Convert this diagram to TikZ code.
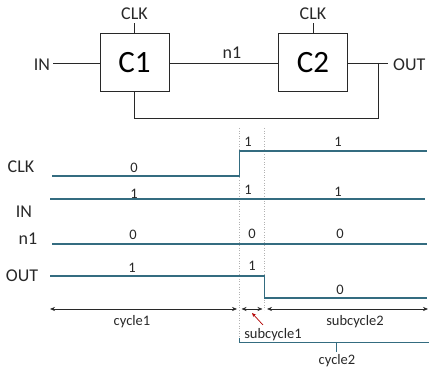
\documentclass[tikz,border=0pt]{standalone}
\usepackage{fontspec}
\setmainfont{Carlito}
\usetikzlibrary{arrows.meta}
\definecolor{sig}{RGB}{52,108,128}
\definecolor{ink}{RGB}{40,40,40}
\begin{document}
\begin{tikzpicture}[x=1pt,y=-1pt,
  blk/.style={draw=ink,line width=1pt,minimum width=69pt,minimum height=58pt,inner sep=0pt,font=\fontsize{31}{33}\selectfont},
  lbl/.style={inner sep=0pt,font=\fontsize{18}{20}\selectfont,text=ink},
  val/.style={inner sep=0pt,font=\fontsize{14.5}{16}\selectfont,text=ink},
  wire/.style={draw=ink,line width=0.8pt},
  wave/.style={draw=sig,line width=1.6pt},
  guide/.style={draw=gray!60,line width=0.6pt,dotted},
  span/.style={draw=ink,line width=0.6pt,{Stealth[length=5pt,width=4pt]}-{Stealth[length=5pt,width=4pt]}},
  brk/.style={draw=sig,line width=0.8pt}]
\useasboundingbox (0,0) rectangle (429,371);
% ---- top block diagram ----
\node[blk] (c1) at (134.5,63) {C1};
\node[blk] (c2) at (313,63) {C2};
\node[lbl] (clk1) at (134.5,14) {CLK};
\node[lbl] (clk2) at (313,14) {CLK};
\draw[wire] (clk1.south) ++(0,3) -- (c1.north);
\draw[wire] (clk2.south) ++(0,3) -- (c2.north);
\node[lbl] (in) at (42,65) {IN};
\coordinate (ina) at (53,63);
\draw[wire] (ina) -- (c1.west);
\node[lbl] (n1) at (232,53) {n1};
\draw[wire] (c1.east) -- (c2.west);
\node[lbl,anchor=west] (out) at (393,65) {OUT};
\coordinate (outa) at (388,63);
\coordinate (fb) at (378,63);
\draw[wire] (c2.east) -- (outa);
\draw[wire] (fb) -- (378,118) -| (c1.south);
% ---- timing diagram ----
\draw[guide] (239.5,128) -- (239.5,338);
\draw[guide] (264.5,128) -- (264.5,310);
\node[lbl] (lclk) at (21,167) {CLK};
\node[lbl] (lin) at (24,212) {IN};
\node[lbl] (ln1) at (28,239) {n1};
\node[lbl] (lout) at (22,276) {OUT};
\draw[wave] (52,176) -- (239.5,176) -- (239.5,151) -- (427,151);
\draw[wave] (50,199) -- (425,199);
\draw[wave] (52,244) -- (427,244);
\draw[wave] (50,276) -- (264.5,276) -- (264.5,298) -- (427,298);
\node[val] at (134,168) {0};
\node[val] at (248,142) {1};
\node[val] at (338,142) {1};
\node[val] at (134,194) {1};
\node[val] at (248,190) {1};
\node[val] at (338,192) {1};
\node[val] at (133,235) {0};
\node[val] at (252,234) {0};
\node[val] at (340,234) {0};
\node[val] at (132,268) {1};
\node[val] at (252,266) {1};
\node[val] at (340,290) {0};
% spans
\draw[span] (50,309) -- (237,309);
\draw[span] (241.5,309) -- (262.5,309);
\draw[span] (267,309) -- (428,309);
\node[val] (cyc1) at (132,322) {cycle1};
\node[val] (sub2) at (355,322) {subcycle2};
\node[val] (sub1) at (273,335) {subcycle1};
\draw[draw=red!70!black,line width=0.7pt,-{Stealth[length=4pt,width=3.5pt]}] (263,325) -- (252,313);
% cycle2 bracket
\draw[brk] (239.5,338) -- (239.5,342) -- (429,342);
\draw[brk] (336,342) -- (336,352);
\node[val] (cyc2) at (337,361) {cycle2};
\end{tikzpicture}
\end{document}
